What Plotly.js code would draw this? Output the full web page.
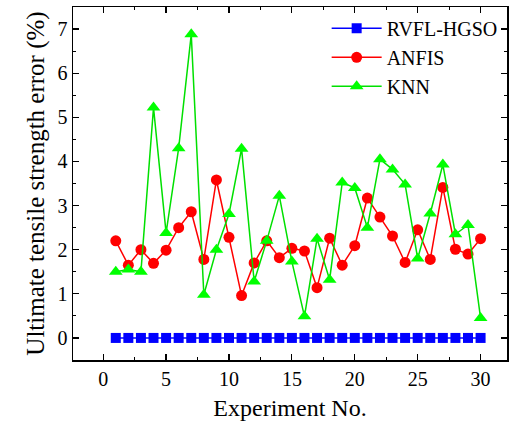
<!DOCTYPE html>
<html>
<head>
<meta charset="utf-8">
<script src="https://cdn.plot.ly/plotly-3.0.1.min.js"></script>
<style>html,body{margin:0;padding:0;background:#fff;}#chart{width:515px;height:430px;}</style>
</head>
<body>
<div id="chart"></div>
<script>
const experiments = [1,2,3,4,5,6,7,8,9,10,11,12,13,14,15,16,17,18,19,20,21,22,23,24,25,26,27,28,29,30];
const rvflHgso = [0,0,0,0,0,0,0,0,0,0,0,0,0,0,0,0,0,0,0,0,0,0,0,0,0,0,0,0,0,0];
const anfis = [2.20,1.65,2.00,1.69,1.99,2.50,2.86,1.78,3.58,2.28,0.96,1.70,2.20,1.82,2.03,1.97,1.14,2.26,1.65,2.09,3.17,2.74,2.31,1.71,2.45,1.78,3.41,2.01,1.90,2.25];
const knn = [1.50,1.55,1.50,5.22,2.38,4.30,6.88,0.98,2.00,2.81,4.29,1.28,2.20,3.22,1.73,0.49,2.25,1.32,3.52,3.40,2.50,4.05,3.82,3.48,1.80,2.82,3.93,2.35,2.56,0.45];

const font = {family: 'Liberation Serif', color: '#000'};

const traces = [
  {x: experiments, y: rvflHgso, name: 'RVFL-HGSO', mode: 'lines+markers',
   line: {color: '#0000ff', width: 1.5}, marker: {symbol: 'square', size: 10, color: '#0000ff'}},
  {x: experiments, y: anfis, name: 'ANFIS', mode: 'lines+markers',
   line: {color: '#ff0000', width: 1.5}, marker: {symbol: 'circle', size: 11, color: '#ff0000'}},
  {x: experiments, y: knn, name: 'KNN', mode: 'lines+markers',
   line: {color: '#00e000', width: 1.5}, marker: {symbol: 'triangle-up', size: 12, color: '#00ff00'}}
];

const layout = {
  width: 515, height: 430,
  margin: {l: 73, r: 8, t: 7, b: 70},
  paper_bgcolor: '#fff', plot_bgcolor: '#fff',
  font: Object.assign({size: 20}, font),
  showlegend: true,
  legend: {x: 0.99, y: 0.995, xanchor: 'right', yanchor: 'top', bgcolor: 'rgba(0,0,0,0)',
           font: Object.assign({size: 20}, font), itemwidth: 50, tracegroupgap: 0},
  xaxis: {
    range: [-2.4, 32.1], tickvals: [0,5,10,15,20,25,30], ticks: 'inside', ticklen: 6, tickwidth: 1.2,
    tickcolor: '#000', showline: true, linecolor: '#000', linewidth: 1.5, mirror: 'ticks',
    showgrid: false, zeroline: false,
    minor: {dtick: 2.5, tick0: 0, ticks: 'inside', ticklen: 3, tickcolor: '#000', showgrid: false},
    tickfont: Object.assign({size: 20}, font),
    title: {text: 'Experiment No.', font: Object.assign({size: 24}, font), standoff: 10}
  },
  yaxis: {
    range: [-0.5, 7.5], tickvals: [0,1,2,3,4,5,6,7], ticks: 'inside', ticklen: 6, tickwidth: 1.2,
    tickcolor: '#000', showline: true, linecolor: '#000', linewidth: 1.5, mirror: 'ticks',
    showgrid: false, zeroline: false,
    minor: {dtick: 0.5, tick0: 0, ticks: 'inside', ticklen: 3, tickcolor: '#000', showgrid: false},
    tickfont: Object.assign({size: 20}, font),
    title: {text: 'Ultimate tensile strength error (%)', font: Object.assign({size: 25}, font), standoff: 6}
  }
};

Plotly.newPlot('chart', traces, layout, {displayModeBar: false, staticPlot: true});
</script>
</body>
</html>
